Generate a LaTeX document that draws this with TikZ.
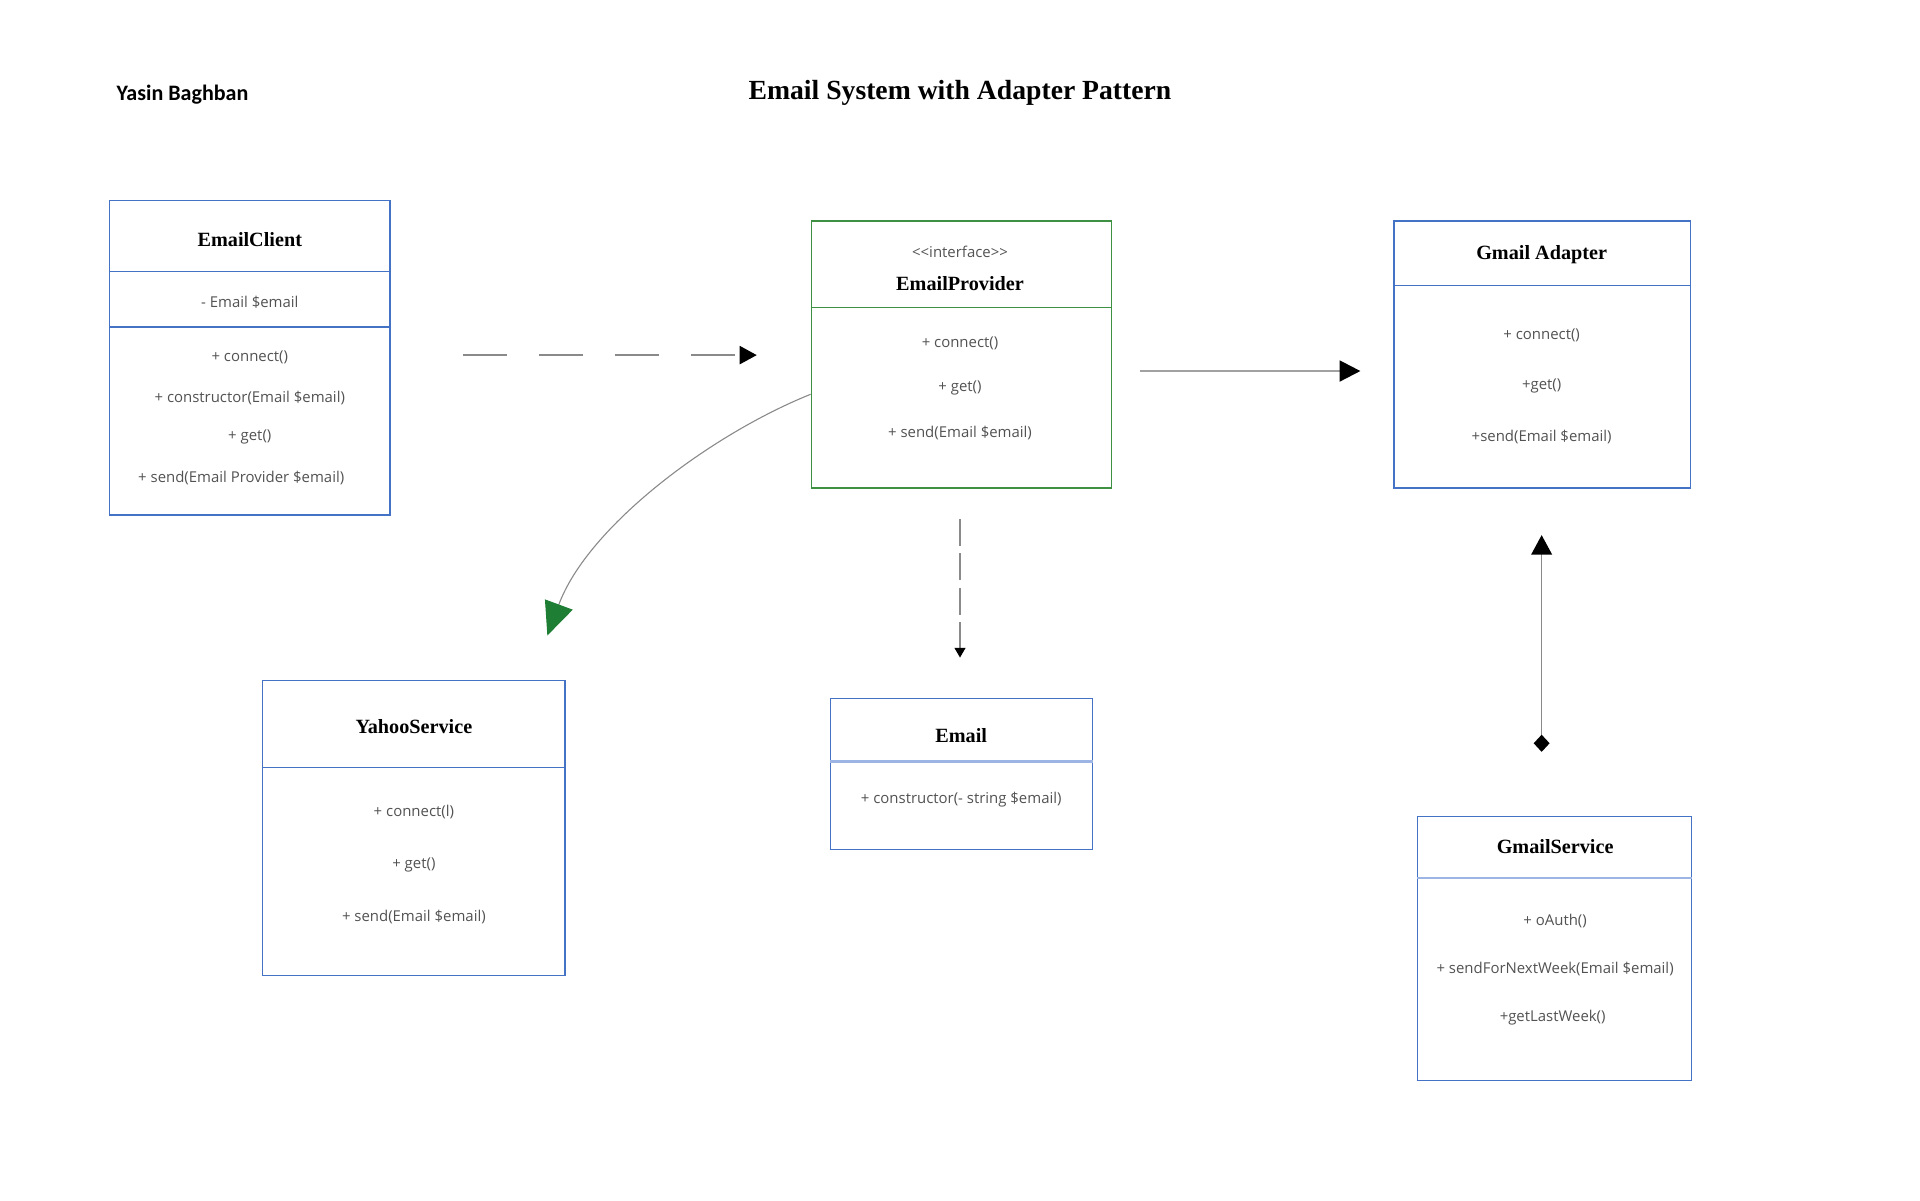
\documentclass[tikz,border=0pt]{standalone}
\usepackage{fontspec}
\setmainfont{Liberation Serif}
\newfontfamily\memfont{Open Sans}
\newfontfamily\authfont{Carlito}
\usetikzlibrary{arrows.meta}
\definecolor{umlblue}{HTML}{4472C4}
\definecolor{lightblue}{HTML}{9DB5E5}
\definecolor{umlgreen}{HTML}{3E9142}
\definecolor{arrgreen}{HTML}{1E7E34}
\definecolor{linegray}{HTML}{8A8A8A}
\begin{document}
\begin{tikzpicture}[x=1pt,y=-1pt,
  boxb/.style={draw=umlblue, line width=1pt, anchor=north west, inner sep=0pt},
  boxg/.style={draw=umlgreen, line width=1pt, anchor=north west, inner sep=0pt},
  ctitle/.style={font=\bfseries\fontsize{16.5}{19}\selectfont, inner sep=0pt},
  member/.style={font=\memfont\fontsize{12.2}{15}\selectfont, text=black!68, inner sep=0pt},
  divb/.style={draw=umlblue, line width=1pt},
  divl/.style={draw=lightblue, line width=2.2pt},
  divg/.style={draw=umlgreen, line width=1pt}
]
\useasboundingbox (0,0) rectangle (1568,980);

% headings
\node[inner sep=0pt] (author) at (149,77) {\authfont\bfseries\fontsize{18}{21}\selectfont Yasin Baghban};
\node[inner sep=0pt] (title) at (784,76) {\bfseries\fontsize{22.6}{26}\selectfont Email System with Adapter Pattern};

% EmailClient
\node[boxb, minimum width=229pt, minimum height=257pt] (ec) at (89,163) {};
\draw[divb] (ec.west |- 0,222) -- (ec.east |- 0,222);
\draw[divb] (ec.west |- 0,267) -- (ec.east |- 0,267);
\node[ctitle] (ect) at (204,196) {EmailClient};
\node[member] (ec1) at (204,247) {- Email \$email};
\node[member] (ec2) at (204,292) {+ connect()};
\node[member] (ec3) at (204,325) {+ constructor(Email \$email)};
\node[member] (ec4) at (204,357) {+ get()};
\node[member] (ec5) at (197,390) {+ send(Email Provider \$email)};

% EmailProvider
\node[boxg, minimum width=245pt, minimum height=218pt] (ep) at (662,180) {};
\draw[divg] (ep.west |- 0,251) -- (ep.east |- 0,251);
\node[member] (ep0) at (784,206) {<<interface>>};
\node[ctitle] (ept) at (784,232) {EmailProvider};
\node[member] (ep1) at (784,280) {+ connect()};
\node[member] (ep2) at (784,317) {+ get()};
\node[member] (ep3) at (784,354) {+ send(Email \$email)};

% Gmail Adapter
\node[boxb, minimum width=242pt, minimum height=218pt] (ga) at (1138,180) {};
\draw[divb] (ga.west |- 0,233) -- (ga.east |- 0,233);
\node[ctitle] (gat) at (1259,208) {Gmail Adapter};
\node[member] (ga1) at (1259,274) {+ connect()};
\node[member] (ga2) at (1259,315) {+get()};
\node[member] (ga3) at (1259,357) {+send(Email \$email)};

% YahooService
\node[boxb, minimum width=247pt, minimum height=241pt] (ys) at (214,555) {};
\draw[divb] (ys.west |- 0,627) -- (ys.east |- 0,627);
\node[ctitle] (yst) at (338,593) {YahooService};
\node[member] (ys1) at (338,663) {+ connect(l)};
\node[member] (ys2) at (338,706) {+ get()};
\node[member] (ys3) at (338,749) {+ send(Email \$email)};

% Email
\node[boxb, minimum width=214pt, minimum height=123pt] (em) at (678,570) {};
\draw[divl] (em.west |- 0,622) -- (em.east |- 0,622);
\node[ctitle] (emt) at (785,601) {Email};
\node[member] (em1) at (785,653) {+ constructor(- string \$email)};

% GmailService
\node[boxb, minimum width=224pt, minimum height=216pt] (gs) at (1157,666) {};
\draw[divl] (gs.west |- 0,717) -- (gs.east |- 0,717);
\node[ctitle] (gst) at (1270,691) {GmailService};
\node[member] (gs1) at (1270,752) {+ oAuth()};
\node[member] (gs2) at (1270,791) {+ sendForNextWeek(Email \$email)};
\node[member] (gs3) at (1268,831) {+getLastWeek()};

% connectors
\coordinate (a1) at (378,290);
\coordinate (a2) at (618,290);
\draw[draw=linegray, line width=1.1pt, dash pattern=on 36pt off 26pt,
  -{Triangle[length=14pt,width=15pt,fill=black,color=black]}] (a1) -- (a2);

\coordinate (b1) at (931,303);
\coordinate (b2) at (1111,303);
\draw[draw=linegray!80, line width=2pt, -{Triangle[length=17pt,width=17pt,fill=black,color=black]}] (b1) -- (b2);

\coordinate (c1) at (662,322);
\coordinate (c2) at (447,519);
\draw[draw=linegray, line width=0.9pt, -{Triangle[length=27pt,width=24pt,fill=arrgreen,color=arrgreen]}]
  (c1) .. controls (580,355) and (480,430) .. (c2);

\coordinate (d1) at (784,424);
\coordinate (d2) at (784,537);
\draw[draw=linegray, line width=1pt, dash pattern=on 22pt off 6pt,
  -{Triangle[length=8pt,width=9pt,fill=black,color=black]}] (d1) -- (d2);

\coordinate (e1) at (1259,614);
\coordinate (e2) at (1259,437);
\draw[draw=linegray, line width=1.2pt,
  {Diamond[length=14pt,width=13pt,fill=black,color=black]}-{Triangle[length=16pt,width=17pt,fill=black,color=black]}] (e1) -- (e2);
\end{tikzpicture}
\end{document}
